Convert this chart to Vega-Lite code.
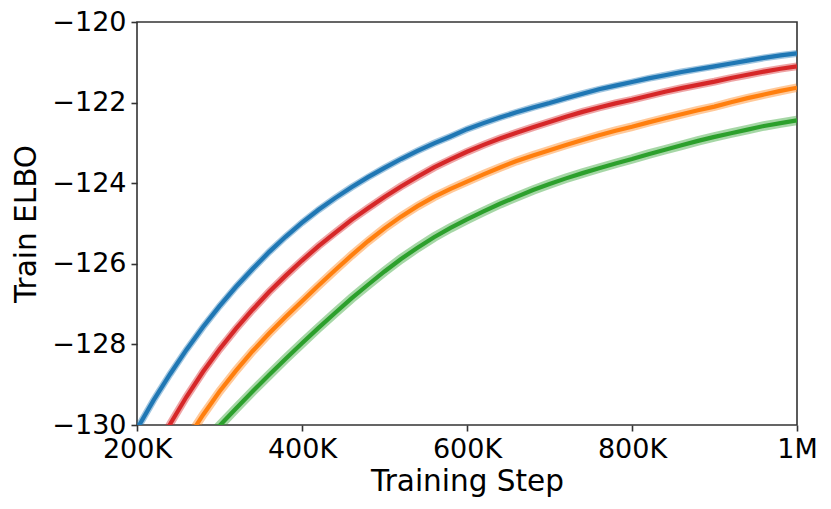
{
  "$schema": "https://vega.github.io/schema/vega-lite/v6.json",
  "width": 660,
  "height": 403,
  "autosize": "none",
  "padding": {"left": 137, "top": 22, "right": 34, "bottom": 84},
  "background": "white",
  "config": {
    "font": "DejaVu Sans",
    "view": {"stroke": "#333333", "strokeWidth": 1.6},
    "axis": {
      "domain": false,
      "grid": false,
      "labelFont": "DejaVu Sans",
      "titleFont": "DejaVu Sans",
      "labelFontSize": 27,
      "titleFontSize": 29.5,
      "labelColor": "black",
      "titleColor": "black",
      "titleFontWeight": "normal",
      "tickColor": "#333333",
      "tickWidth": 1.6,
      "tickSize": 6,
      "labelPadding": 5
    }
  },
  "data": {"values": [
    {"s":"A","step":200,"elbo":-130.10},{"s":"A","step":220,"elbo":-129.39},{"s":"A","step":240,"elbo":-128.74},{"s":"A","step":260,"elbo":-128.13},{"s":"A","step":280,"elbo":-127.57},{"s":"A","step":300,"elbo":-127.05},{"s":"A","step":320,"elbo":-126.57},{"s":"A","step":340,"elbo":-126.13},{"s":"A","step":360,"elbo":-125.71},{"s":"A","step":380,"elbo":-125.33},{"s":"A","step":400,"elbo":-124.98},{"s":"A","step":420,"elbo":-124.66},{"s":"A","step":440,"elbo":-124.37},{"s":"A","step":460,"elbo":-124.10},{"s":"A","step":480,"elbo":-123.85},{"s":"A","step":500,"elbo":-123.62},{"s":"A","step":520,"elbo":-123.40},{"s":"A","step":540,"elbo":-123.20},{"s":"A","step":560,"elbo":-123.01},{"s":"A","step":580,"elbo":-122.84},{"s":"A","step":600,"elbo":-122.66},{"s":"A","step":620,"elbo":-122.51},{"s":"A","step":640,"elbo":-122.37},{"s":"A","step":660,"elbo":-122.24},{"s":"A","step":680,"elbo":-122.12},{"s":"A","step":700,"elbo":-122.01},{"s":"A","step":720,"elbo":-121.89},{"s":"A","step":740,"elbo":-121.78},{"s":"A","step":760,"elbo":-121.67},{"s":"A","step":780,"elbo":-121.58},{"s":"A","step":800,"elbo":-121.49},{"s":"A","step":820,"elbo":-121.40},{"s":"A","step":840,"elbo":-121.32},{"s":"A","step":860,"elbo":-121.24},{"s":"A","step":880,"elbo":-121.17},{"s":"A","step":900,"elbo":-121.10},{"s":"A","step":920,"elbo":-121.03},{"s":"A","step":940,"elbo":-120.96},{"s":"A","step":960,"elbo":-120.89},{"s":"A","step":980,"elbo":-120.83},{"s":"A","step":1000,"elbo":-120.78},
    {"s":"B","step":220,"elbo":-130.70},{"s":"B","step":240,"elbo":-129.98},{"s":"B","step":260,"elbo":-129.30},{"s":"B","step":280,"elbo":-128.68},{"s":"B","step":300,"elbo":-128.12},{"s":"B","step":320,"elbo":-127.61},{"s":"B","step":340,"elbo":-127.14},{"s":"B","step":360,"elbo":-126.70},{"s":"B","step":380,"elbo":-126.30},{"s":"B","step":400,"elbo":-125.92},{"s":"B","step":420,"elbo":-125.56},{"s":"B","step":440,"elbo":-125.23},{"s":"B","step":460,"elbo":-124.91},{"s":"B","step":480,"elbo":-124.62},{"s":"B","step":500,"elbo":-124.34},{"s":"B","step":520,"elbo":-124.08},{"s":"B","step":540,"elbo":-123.84},{"s":"B","step":560,"elbo":-123.61},{"s":"B","step":580,"elbo":-123.41},{"s":"B","step":600,"elbo":-123.22},{"s":"B","step":620,"elbo":-123.05},{"s":"B","step":640,"elbo":-122.89},{"s":"B","step":660,"elbo":-122.75},{"s":"B","step":680,"elbo":-122.61},{"s":"B","step":700,"elbo":-122.48},{"s":"B","step":720,"elbo":-122.35},{"s":"B","step":740,"elbo":-122.23},{"s":"B","step":760,"elbo":-122.12},{"s":"B","step":780,"elbo":-122.02},{"s":"B","step":800,"elbo":-121.93},{"s":"B","step":820,"elbo":-121.83},{"s":"B","step":840,"elbo":-121.73},{"s":"B","step":860,"elbo":-121.64},{"s":"B","step":880,"elbo":-121.56},{"s":"B","step":900,"elbo":-121.48},{"s":"B","step":920,"elbo":-121.39},{"s":"B","step":940,"elbo":-121.31},{"s":"B","step":960,"elbo":-121.23},{"s":"B","step":980,"elbo":-121.16},{"s":"B","step":1000,"elbo":-121.10},
    {"s":"C","step":260,"elbo":-130.38},{"s":"C","step":280,"elbo":-129.75},{"s":"C","step":300,"elbo":-129.17},{"s":"C","step":320,"elbo":-128.65},{"s":"C","step":340,"elbo":-128.17},{"s":"C","step":360,"elbo":-127.73},{"s":"C","step":380,"elbo":-127.32},{"s":"C","step":400,"elbo":-126.93},{"s":"C","step":420,"elbo":-126.54},{"s":"C","step":440,"elbo":-126.16},{"s":"C","step":460,"elbo":-125.79},{"s":"C","step":480,"elbo":-125.44},{"s":"C","step":500,"elbo":-125.12},{"s":"C","step":520,"elbo":-124.83},{"s":"C","step":540,"elbo":-124.57},{"s":"C","step":560,"elbo":-124.34},{"s":"C","step":580,"elbo":-124.14},{"s":"C","step":600,"elbo":-123.96},{"s":"C","step":620,"elbo":-123.78},{"s":"C","step":640,"elbo":-123.61},{"s":"C","step":660,"elbo":-123.45},{"s":"C","step":680,"elbo":-123.31},{"s":"C","step":700,"elbo":-123.18},{"s":"C","step":720,"elbo":-123.05},{"s":"C","step":740,"elbo":-122.93},{"s":"C","step":760,"elbo":-122.81},{"s":"C","step":780,"elbo":-122.70},{"s":"C","step":800,"elbo":-122.60},{"s":"C","step":820,"elbo":-122.49},{"s":"C","step":840,"elbo":-122.39},{"s":"C","step":860,"elbo":-122.29},{"s":"C","step":880,"elbo":-122.19},{"s":"C","step":900,"elbo":-122.10},{"s":"C","step":920,"elbo":-121.99},{"s":"C","step":940,"elbo":-121.89},{"s":"C","step":960,"elbo":-121.80},{"s":"C","step":980,"elbo":-121.71},{"s":"C","step":1000,"elbo":-121.63},
    {"s":"D","step":280,"elbo":-130.45},{"s":"D","step":300,"elbo":-130.02},{"s":"D","step":320,"elbo":-129.59},{"s":"D","step":340,"elbo":-129.17},{"s":"D","step":360,"elbo":-128.76},{"s":"D","step":380,"elbo":-128.36},{"s":"D","step":400,"elbo":-127.97},{"s":"D","step":420,"elbo":-127.59},{"s":"D","step":440,"elbo":-127.22},{"s":"D","step":460,"elbo":-126.86},{"s":"D","step":480,"elbo":-126.52},{"s":"D","step":500,"elbo":-126.19},{"s":"D","step":520,"elbo":-125.88},{"s":"D","step":540,"elbo":-125.60},{"s":"D","step":560,"elbo":-125.34},{"s":"D","step":580,"elbo":-125.11},{"s":"D","step":600,"elbo":-124.90},{"s":"D","step":620,"elbo":-124.70},{"s":"D","step":640,"elbo":-124.51},{"s":"D","step":660,"elbo":-124.34},{"s":"D","step":680,"elbo":-124.17},{"s":"D","step":700,"elbo":-124.02},{"s":"D","step":720,"elbo":-123.88},{"s":"D","step":740,"elbo":-123.75},{"s":"D","step":760,"elbo":-123.63},{"s":"D","step":780,"elbo":-123.51},{"s":"D","step":800,"elbo":-123.40},{"s":"D","step":820,"elbo":-123.28},{"s":"D","step":840,"elbo":-123.17},{"s":"D","step":860,"elbo":-123.06},{"s":"D","step":880,"elbo":-122.95},{"s":"D","step":900,"elbo":-122.85},{"s":"D","step":920,"elbo":-122.76},{"s":"D","step":940,"elbo":-122.67},{"s":"D","step":960,"elbo":-122.58},{"s":"D","step":980,"elbo":-122.51},{"s":"D","step":1000,"elbo":-122.44}
  ]},
  "encoding": {
    "x": {
      "field": "step", "type": "quantitative",
      "scale": {"domain": [200, 1000], "nice": false, "zero": false},
      "axis": {
        "title": "Training Step",
        "values": [200, 400, 600, 800, 1000],
        "labelExpr": "datum.value == 1000 ? '1M' : datum.value + 'K'",
        "labelFlush": false,
        "labelOverlap": false,
        "titlePadding": 5
      }
    },
    "y": {
      "field": "elbo", "type": "quantitative",
      "scale": {"domain": [-130, -120], "nice": false, "zero": false},
      "axis": {
        "title": "Train ELBO",
        "values": [-130, -128, -126, -124, -122, -120],
        "labelFlush": false,
        "labelOverlap": false,
        "titlePadding": 10
      }
    },
    "color": {
      "field": "s", "type": "nominal",
      "scale": {"domain": ["A", "B", "C", "D"], "range": ["#1f77b4", "#d62728", "#ff7f0e", "#2ca02c"]},
      "legend": null
    }
  },
  "layer": [
    {
      "mark": {"type": "line", "clip": true, "opacity": 0.42, "strokeCap": "butt"},
      "encoding": {
        "strokeWidth": {
          "field": "s", "type": "nominal",
          "scale": {"domain": ["A", "B", "C", "D"], "range": [7, 9.5, 9.5, 6]},
          "legend": null
        }
      }
    },
    {
      "mark": {"type": "line", "clip": true, "strokeWidth": 4.2, "strokeCap": "butt"}
    }
  ]
}
